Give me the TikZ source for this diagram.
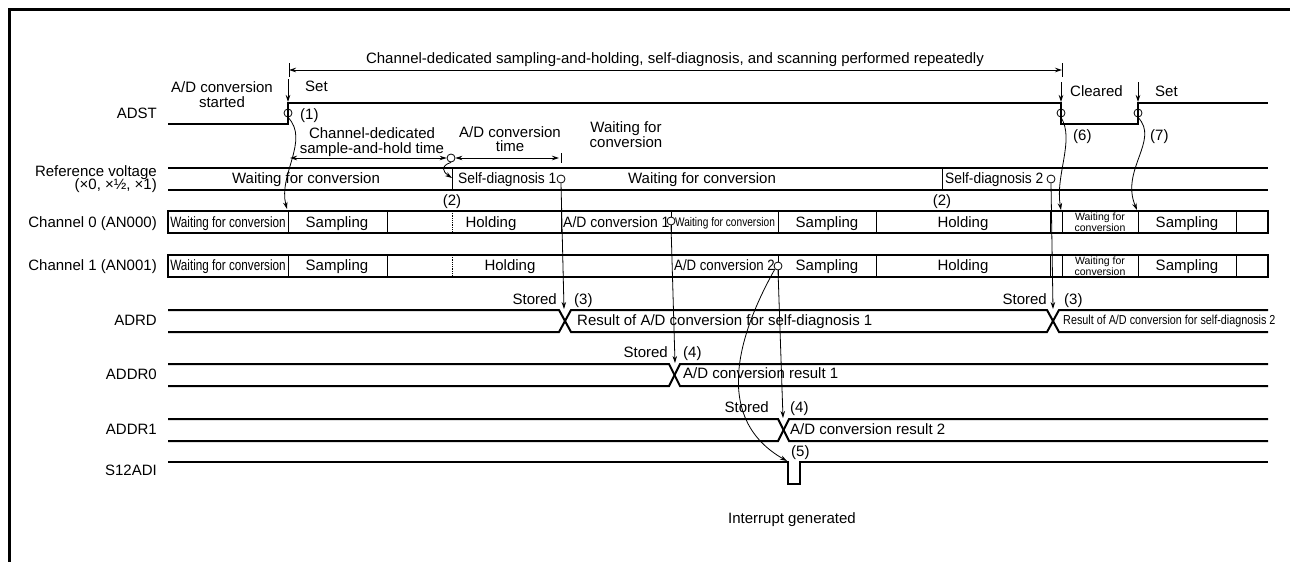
\documentclass[tikz,border=0pt]{standalone}
\usepackage{fontspec}
\setmainfont{Liberation Sans}
\usepackage{graphicx}
\usetikzlibrary{arrows.meta}
\newcommand{\sqz}[2]{\scalebox{#1}[1]{#2}}
\begin{document}
\begin{tikzpicture}[x=1pt,y=-1pt,
  font=\fontsize{15}{17}\selectfont,
  sig/.style={line width=2pt},
  divl/.style={line width=0.8pt},
  dotl/.style={line width=0.8pt, densely dotted},
  arr/.style={line width=0.8pt,-{Stealth[length=7pt,width=4.5pt]}},
  darr/.style={line width=0.8pt,{Stealth[length=7pt,width=4.5pt]}-{Stealth[length=7pt,width=4.5pt]}},
  ring/.style={circle,draw,line width=0.8pt,minimum size=8pt,inner sep=0pt},
  lbl/.style={anchor=base east,inner sep=0pt},
  tc/.style={anchor=base,inner sep=0pt},
  tw/.style={anchor=base west,inner sep=0pt},
  two/.style={align=center,inner sep=0pt,font=\fontsize{10.5}{9}\selectfont},
]
\useasboundingbox (0,0) rectangle (1290,562);
% frame
\draw[line width=3pt] (9.5,562) -- (9.5,9) -- (1290,9);

% ---------- title span ----------
\node[tc] (title) at (675,63) {Channel-dedicated sampling-and-holding, self-diagnosis, and scanning performed repeatedly};
\coordinate (spL) at (289,70);
\coordinate (spR) at (1062,70);
\draw[darr] (spL) -- (spR);
\draw[divl] (289,63) -- (289,77);
\draw[divl] (1062,63) -- (1062,77);

% ---------- ADST ----------
\node[lbl] (lADST) at (157,118) {ADST};
\node[tc] (tst1) at (222,92) {A/D conversion};
\node[tc] (tst2) at (222,107) {started};
\node[tw] (tset1) at (305,91) {Set};
\node[tw] (tclr) at (1070,96) {Cleared};
\node[tw] (tset2) at (1155,96) {Set};
\draw[sig] (168,124) -- (288,124) -- (288,103) -- (1061,103) -- (1061,124) -- (1138,124) -- (1138,103) -- (1268,103);
\coordinate (a1s) at (288,79);  \coordinate (a1e) at (288,102);
\coordinate (a6s) at (1061,82); \coordinate (a6e) at (1061,102);
\coordinate (a7s) at (1138,82); \coordinate (a7e) at (1138,102);
\draw[arr] (a1s) -- (a1e);
\draw[arr] (a6s) -- (a6e);
\draw[arr] (a7s) -- (a7e);
\node[ring] (r1) at (288,113) {};
\node[ring] (r6) at (1061,113) {};
\node[ring] (r7) at (1138,113) {};
\node[tw] (n1) at (300,119) {(1)};
\node[tw] (n6) at (1073,140) {(6)};
\node[tw] (n7) at (1150,140) {(7)};

% ---------- time spans ----------
\node[tc] (tsh1) at (372,138) {Channel-dedicated};
\node[tc] (tsh2) at (372,153) {sample-and-hold time};
\node[tc] (tcv1) at (510,137) {A/D conversion};
\node[tc] (tcv2) at (510,151) {time};
\node[tc] (twt1) at (626,132) {Waiting for};
\node[tc] (twt2) at (626,147) {conversion};
\node[ring] (r2) at (451,158) {};
\coordinate (shL) at (290,158);
\coordinate (cvR) at (559,158);
\draw[darr] (shL) -- (r2.west);
\draw[darr] (r2.east) -- (cvR);
\draw[divl] (561,153) -- (561,163);

% ---------- Reference voltage ----------
\node[lbl] (lref1) at (157,176) {Reference voltage};
\node[lbl] (lref2) at (157,189) {(×0, ×½, ×1)};
\draw[sig] (168,168) -- (1268,168);
\draw[sig] (168,190) -- (1268,190);
\draw[divl] (452,168) -- (452,190);
\draw[divl] (942,168) -- (942,190);
\node[tc] (rw1) at (306,183) {Waiting for conversion};
\node[tw] (rsd1) at (458,183) {\sqz{0.92}{Self-diagnosis 1}};
\node[tc] (rw2) at (702,183) {Waiting for conversion};
\node[tw] (rsd2) at (945,183) {\sqz{0.92}{Self-diagnosis 2}};
\node[ring] (rs1) at (561,179) {};
\node[ring] (rs2) at (1051,179) {};
\node[tc] (n2a) at (452,205) {(2)};
\node[tc] (n2b) at (942,205) {(2)};

% ---------- Channel 0 ----------
\node[lbl] (lch0) at (157,227) {Channel 0 (AN000)};
\draw[line width=2.2pt] (168,211) rectangle (1268,233);
\foreach \x in {288,387,561,671,778,876,1050,1062,1138,1236}
  \draw[divl] (\x,211) -- (\x,233);
\draw[dotl] (452,211) -- (452,233);
\node[tc] (c0a) at (228,227) {\sqz{0.78}{Waiting for conversion}};
\node[tc] (c0b) at (337,227) {Sampling};
\node[tc] (c0c) at (491,227) {Holding};
\node[tw] (c0d) at (563,227) {\sqz{0.93}{A/D conversion 1}};
\node[tc,font=\fontsize{12.5}{14}\selectfont] (c0e) at (725,226) {\sqz{0.81}{Waiting for conversion}};
\node[tc] (c0f) at (827,227) {Sampling};
\node[tc] (c0g) at (963,227) {Holding};
\node[two] (c0h) at (1100,222.5) {Waiting for\\conversion};
\node[tc] (c0i) at (1187,227) {Sampling};
\node[ring,fill=white] (rc0) at (671,221) {};

% ---------- Channel 1 ----------
\node[lbl] (lch1) at (157,270) {Channel 1 (AN001)};
\draw[line width=2.2pt] (168,255) rectangle (1268,277);
\foreach \x in {288,387,778,876,1050,1062,1138,1236}
  \draw[divl] (\x,255) -- (\x,277);
\draw[dotl] (452,255) -- (452,277);
\node[tc] (c1a) at (228,270) {\sqz{0.78}{Waiting for conversion}};
\node[tc] (c1b) at (337,270) {Sampling};
\node[tc] (c1c) at (510,270) {Holding};
\node[tw] (c1d) at (674,270) {\sqz{0.88}{A/D conversion 2}};
\node[tc] (c1f) at (827,270) {Sampling};
\node[tc] (c1g) at (963,270) {Holding};
\node[two] (c1h) at (1100,266.5) {Waiting for\\conversion};
\node[tc] (c1i) at (1187,270) {Sampling};
\node[ring,fill=white] (rc1) at (778,266) {};

% ---------- ADRD ----------
\node[lbl] (lADRD) at (157,325) {ADRD};
\draw[sig] (168,310) -- (559,310) -- (571,332) -- (1047,332) -- (1059,310) -- (1268,310);
\draw[sig] (168,332) -- (559,332) -- (571,310) -- (1047,310) -- (1059,332) -- (1268,332);
\node[lbl] (st3a) at (557,304) {Stored};
\node[tw] (n3a) at (574,304) {(3)};
\node[lbl] (st3b) at (1047,304) {Stored};
\node[tw] (n3b) at (1064,304) {(3)};
\node[tw] (res1) at (577,325) {Result of A/D conversion for self-diagnosis 1};
\node[tw,font=\fontsize{13}{15}\selectfont] (res2) at (1063,324) {\sqz{0.83}{Result of A/D conversion for self-diagnosis 2}};

% ---------- ADDR0 ----------
\node[lbl] (lADDR0) at (157,379) {ADDR0};
\draw[sig] (168,364) -- (669,364) -- (680,386) -- (1268,386);
\draw[sig] (168,386) -- (669,386) -- (680,364) -- (1268,364);
\node[lbl] (st4a) at (668,357) {Stored};
\node[tw] (n4a) at (683,357) {(4)};
\node[tw] (rr1) at (683,378) {A/D conversion result 1};

% ---------- ADDR1 ----------
\node[lbl] (lADDR1) at (157,434) {ADDR1};
\draw[sig] (168,419) -- (778,419) -- (789,441) -- (1268,441);
\draw[sig] (168,441) -- (778,441) -- (789,419) -- (1268,419);
\node[lbl] (st4b) at (769,412) {Stored};
\node[tw] (n4b) at (790,412) {(4)};
\node[tw] (rr2) at (790,434) {A/D conversion result 2};

% ---------- S12ADI ----------
\node[lbl] (lS12) at (157,475) {S12ADI};
\draw[sig] (168,462) -- (788,462) -- (788,484) -- (800,484) -- (800,462) -- (1268,462);
\node[tw] (n5) at (791,456) {(5)};
\node[tc] (intr) at (792,523) {Interrupt generated};

% ---------- connectors ----------
\coordinate (t1) at (287,209);
\coordinate (t2) at (452,178);
\coordinate (t3a) at (564,309);
\coordinate (t3b) at (1053,309);
\coordinate (t4a) at (675,363);
\coordinate (t4b) at (783,418);
\coordinate (t5) at (787,461);
\coordinate (t6) at (1061,210);
\coordinate (t7) at (1137,210);
\draw[arr] (r1.south) .. controls (310,140) and (278,175) .. (t1);
\draw[arr] (r2.south) .. controls (440,166) and (443,172) .. (t2);
\draw[arr] (rs1.south) -- (t3a);
\draw[arr] (rs2.south) -- (t3b);
\draw[arr] (rc0.south) -- (t4a);
\draw[arr] (rc1.south) -- (t4b);
\draw[arr] (rc1.south west) .. controls (735,340) and (715,420) .. (t5);
\draw[arr] (r6.south) .. controls (1075,140) and (1055,175) .. (t6);
\draw[arr] (r7.south) .. controls (1160,140) and (1120,170) .. (t7);
\end{tikzpicture}
\end{document}
